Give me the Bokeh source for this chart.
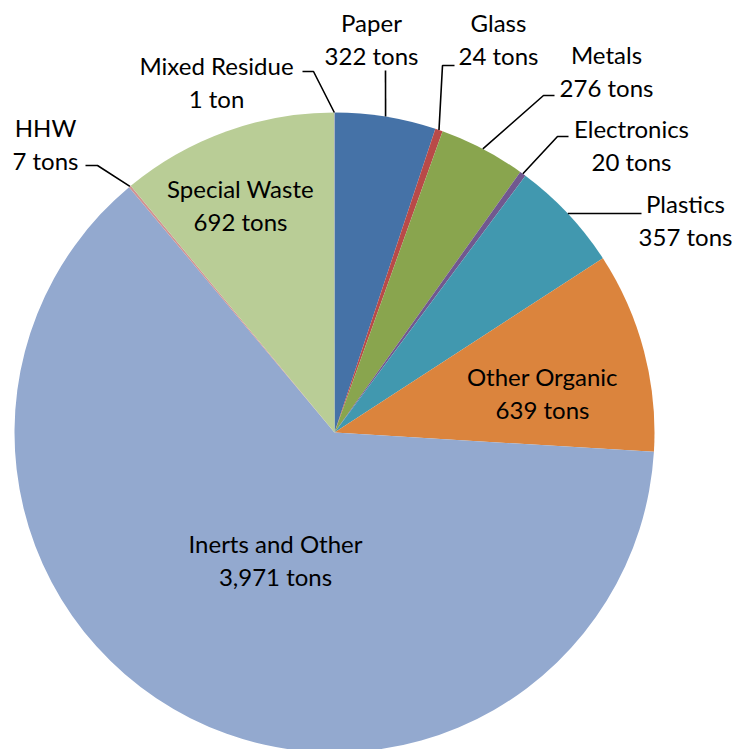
import math
from bokeh.plotting import figure
from bokeh.models import Range1d, ColumnDataSource
from bokeh.core.properties import value
from bokeh.embed import file_html
from bokeh.resources import INLINE

# ---- data ----
categories = ["Paper", "Glass", "Metals", "Electronics", "Plastics", "Other Organic",
              "Inerts and Other", "HHW", "Special Waste", "Mixed Residue"]
tons = [322, 24, 276, 20, 357, 639, 3971, 7, 692, 1]
value_labels = ["322 tons", "24 tons", "276 tons", "20 tons", "357 tons", "639 tons",
                "3,971 tons", "7 tons", "692 tons", "1 ton"]

# ---- styles ----
colors = ["#4572A7", "#B94A48", "#89A54E", "#71588F", "#4198AF", "#DB843D",
          "#93A9CF", "#D19392", "#B9CD96", "#A99BBD"]

W, H = 733, 749
CX, CY, R = 334, 432, 320  # pixel-space layout


def py(y):
    return H - y


# label layout: (label centre x, first line y, leader elbow (x,y) or None, leader end x or None)
label_layout = {
    "Paper":            (371, 22, (385, 70), None),
    "Glass":            (498, 22, (442, 65), 454),
    "Metals":           (606, 54, (543, 95), 554),
    "Electronics":      (631, 128, (557, 136), 568),
    "Plastics":         (685, 203, None, 641),
    "Other Organic":    (542, 376, None, None),
    "Inerts and Other": (275, 543, None, None),
    "HHW":              (45, 127, (97, 165), 85),
    "Special Waste":    (240, 188, None, None),
    "Mixed Residue":    (216, 65, (313, 71), 302),
}
LINE_GAP = 33

p = figure(width=W, height=H, output_backend="svg", toolbar_location=None,
           x_axis_type=None, y_axis_type=None, min_border=0,
           x_range=Range1d(0, W), y_range=Range1d(0, H))
p.grid.visible = False
p.outline_line_color = None
p.background_fill_color = "white"
p.border_fill_color = "white"

total = float(sum(tons))
starts, ends, mids = [], [], []
cum = 0.0
for t in tons:
    a0 = cum / total * 2 * math.pi
    cum += t
    a1 = cum / total * 2 * math.pi
    starts.append(math.pi / 2 - a0)
    ends.append(math.pi / 2 - a1)
    mids.append((a0 + a1) / 2)

src = ColumnDataSource(dict(start=starts, end=ends, color=colors, cat=categories))
p.wedge(x=CX, y=py(CY), radius=R, start_angle="start", end_angle="end",
        direction="clock", fill_color="color", line_color=None, source=src)

tx, ty, tt = [], [], []
for cat, vl, m in zip(categories, value_labels, mids):
    lx, ly, elbow, endx = label_layout[cat]
    tx += [lx, lx]
    ty += [py(ly), py(ly + LINE_GAP)]
    tt += [cat, vl]
    # leader line from slice edge
    if elbow is not None or endx is not None:
        sx = CX + R * math.sin(m)
        sy = CY - R * math.cos(m)
        xs, ys = [sx], [py(sy)]
        if elbow is not None:
            xs.append(elbow[0]); ys.append(py(elbow[1]))
            if endx is not None:
                xs.append(endx); ys.append(py(elbow[1]))
        else:
            xs.append(endx); ys.append(py(sy))
        p.line(xs, ys, line_color="black", line_width=1.6)

p.text(x=tx, y=ty, text=tt, text_align="center", text_baseline="middle",
       text_font=value("Lato"), text_font_size="24px", text_color="black")

open("out.html", "w").write(file_html(p, INLINE))
